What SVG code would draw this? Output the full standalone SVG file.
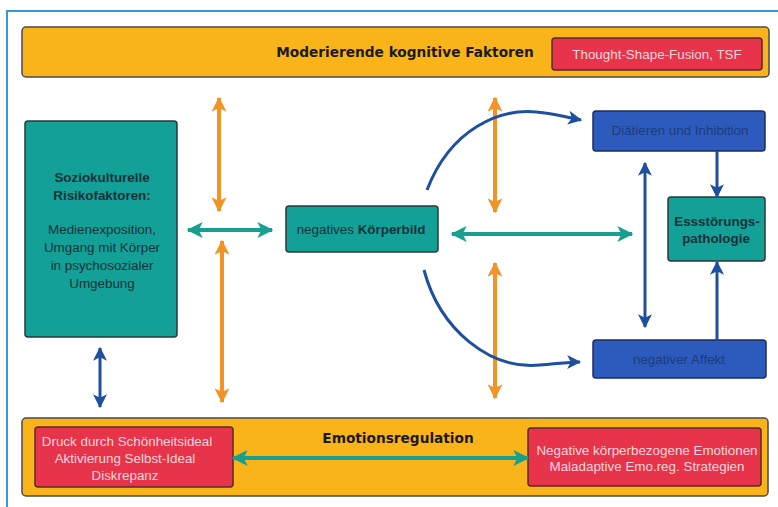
<svg xmlns="http://www.w3.org/2000/svg" width="778" height="507" viewBox="0 0 778 507">
<style>
.bar{fill:#f9b419;stroke:#4a4a4a;stroke-width:1.5}
.teal{fill:#13a096;stroke:#2a3a3a;stroke-width:1.5}
.red{fill:#e8344b;stroke:#5a2a2a;stroke-width:1.5}
.blue{fill:#2c5bbd;stroke:#1d2f5a;stroke-width:1.5}
.title{font-family:"DejaVu Sans",sans-serif;font-weight:bold;font-size:13.7px;fill:#1a1a1a;text-anchor:middle}
.t{font-family:"Liberation Sans",Arial,sans-serif;font-size:13.4px;text-anchor:middle}
.dk{fill:#16313a}
.lt{fill:#f6d6dc}
.bt{fill:#1d3b7a}
.b{font-weight:bold}
.ao{stroke:#f39325;stroke-width:4;fill:none}
.at{stroke:#17a08f;stroke-width:4;fill:none}
.ab{stroke:#1f4f9f;stroke-width:3;fill:none}
</style>
<defs>
<marker id="mo" viewBox="0 0 12 12" refX="11" refY="6" markerWidth="15" markerHeight="15" markerUnits="userSpaceOnUse" orient="auto-start-reverse"><path d="M0,0 L12,6 L0,12 L3,6 z" fill="#f39325"/></marker>
<marker id="mt" viewBox="0 0 12 12" refX="11" refY="6" markerWidth="16" markerHeight="16" markerUnits="userSpaceOnUse" orient="auto-start-reverse"><path d="M0,0 L12,6 L0,12 L3,6 z" fill="#17a08f"/></marker>
<marker id="mb" viewBox="0 0 12 12" refX="11" refY="6" markerWidth="14" markerHeight="14" markerUnits="userSpaceOnUse" orient="auto-start-reverse"><path d="M0,0 L12,6 L0,12 L3,6 z" fill="#1f4f9f"/></marker>
</defs>
<rect x="0" y="0" width="778" height="507" fill="#ffffff"/>
<path d="M7,507 L7,11 L778,11" fill="none" stroke="#3399d8" stroke-width="2"/>

<g id="top-bar">
<rect class="bar" x="22" y="27" width="747" height="50" rx="4"/>
<text class="title" x="405" y="57">Moderierende kognitive Faktoren</text>
</g>
<g id="tsf">
<rect class="red" x="552" y="38" width="210" height="32" rx="3"/>
<text class="t lt" x="657" y="59">Thought-Shape-Fusion, TSF</text>
</g>
<g id="soziokulturell">
<rect class="teal" x="25" y="121" width="152" height="216" rx="3"/>
<text class="t dk b" x="102" y="182">Soziokulturelle</text>
<text class="t dk b" x="102" y="200">Risikofaktoren:</text>
<text class="t dk" x="102" y="234">Medienexposition,</text>
<text class="t dk" x="102" y="252">Umgang mit Körper</text>
<text class="t dk" x="102" y="270">in psychosozialer</text>
<text class="t dk" x="102" y="288">Umgebung</text>
</g>
<g id="koerperbild">
<rect class="teal" x="286" y="206" width="152" height="46" rx="3"/>
<text class="t dk" x="361" y="234">negatives <tspan class="b">Körperbild</tspan></text>
</g>
<g id="diaetieren">
<rect class="blue" x="593" y="111" width="172" height="40" rx="3"/>
<text class="t bt" x="680" y="135">Diätieren und Inhibition</text>
</g>
<g id="essstoerung">
<rect class="teal" x="668" y="197" width="97" height="64" rx="3"/>
<text class="t dk b" x="717" y="226">Essstörungs-</text>
<text class="t dk b" x="716" y="243">pathologie</text>
</g>
<g id="affekt">
<rect class="blue" x="593" y="340" width="173" height="38" rx="3"/>
<text class="t bt" x="679" y="364">negativer Affekt</text>
</g>
<g id="bottom-bar">
<rect class="bar" x="22" y="418" width="746" height="78" rx="4"/>
<text class="title" x="398" y="443">Emotionsregulation</text>
</g>
<g id="druck">
<rect class="red" x="35" y="427" width="198" height="60" rx="3"/>
<text class="t lt" x="127" y="446">Druck durch Schönheitsideal</text>
<text class="t lt" x="125" y="463">Aktivierung Selbst-Ideal</text>
<text class="t lt" x="125" y="480">Diskrepanz</text>
</g>
<g id="emotionen">
<rect class="red" x="528" y="428" width="233" height="58" rx="3"/>
<text class="t lt" x="647" y="455">Negative körperbezogene Emotionen</text>
<text class="t lt" x="647" y="471">Maladaptive Emo.reg. Strategien</text>
</g>

<g id="connectors">
<line class="ao" x1="219" y1="98" x2="219" y2="211" marker-start="url(#mo)" marker-end="url(#mo)"/>
<line class="ao" x1="222" y1="241" x2="222" y2="402" marker-start="url(#mo)" marker-end="url(#mo)"/>
<line class="ao" x1="495" y1="98" x2="495" y2="212" marker-start="url(#mo)" marker-end="url(#mo)"/>
<line class="ao" x1="495" y1="263" x2="495" y2="398" marker-start="url(#mo)" marker-end="url(#mo)"/>
<line class="at" x1="188" y1="230" x2="272" y2="230" marker-start="url(#mt)" marker-end="url(#mt)"/>
<line class="at" x1="452" y1="234" x2="632" y2="234" marker-start="url(#mt)" marker-end="url(#mt)"/>
<line class="at" x1="233" y1="458" x2="528" y2="458" marker-start="url(#mt)" marker-end="url(#mt)"/>
<line class="ab" x1="100" y1="348" x2="100" y2="407" marker-start="url(#mb)" marker-end="url(#mb)"/>
<path class="ab" d="M427,190 C450,130 500,105 545,113 C560,115 570,118 581,120" marker-end="url(#mb)"/>
<path class="ab" d="M424,270 C440,330 490,370 540,365 C555,364 568,362 580,362" marker-end="url(#mb)"/>
<line class="ab" x1="645" y1="163" x2="645" y2="327" marker-start="url(#mb)" marker-end="url(#mb)"/>
<line class="ab" x1="717" y1="151" x2="717" y2="197" marker-end="url(#mb)"/>
<line class="ab" x1="717" y1="340" x2="717" y2="262" marker-end="url(#mb)"/>
</g>
</svg>
